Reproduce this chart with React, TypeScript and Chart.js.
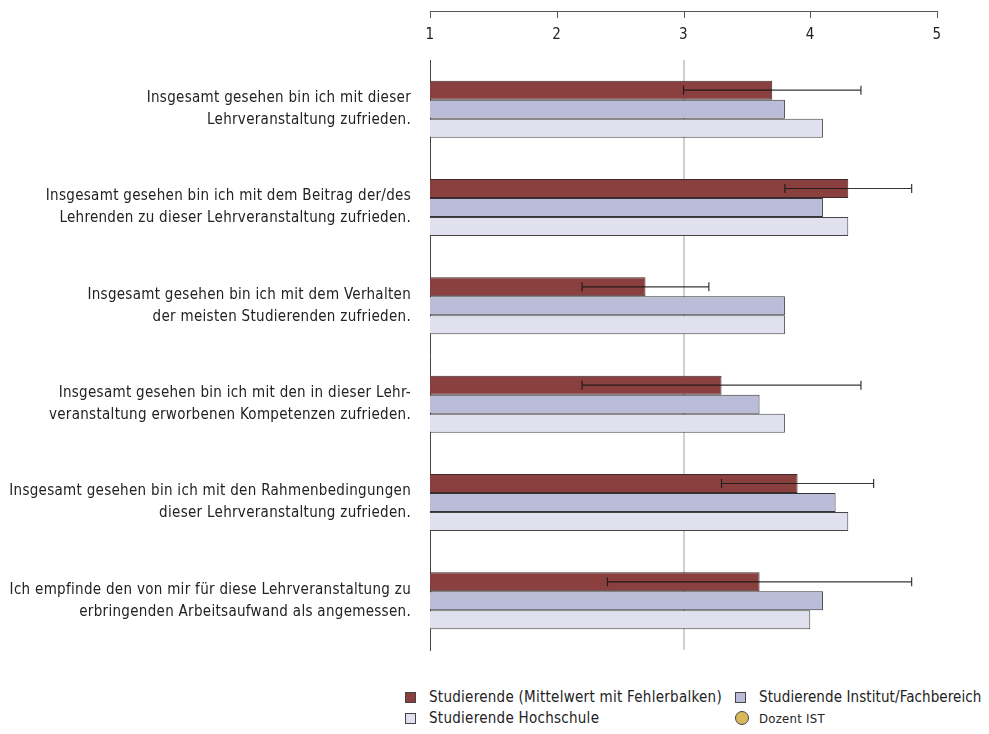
import { useEffect, useRef } from "react";
import { Chart, registerables } from "chart.js";

Chart.register(...registerables);

const FONT = '"Liberation Sans Narrow", "DejaVu Sans Condensed", "Arial Narrow", sans-serif';

const categories: string[][] = [
  ["Insgesamt gesehen bin ich mit dieser", "Lehrveranstaltung zufrieden."],
  ["Insgesamt gesehen bin ich mit dem Beitrag der/des", "Lehrenden zu dieser Lehrveranstaltung zufrieden."],
  ["Insgesamt gesehen bin ich mit dem Verhalten", "der meisten Studierenden zufrieden."],
  ["Insgesamt gesehen bin ich mit den in dieser Lehr-", "veranstaltung erworbenen Kompetenzen zufrieden."],
  ["Insgesamt gesehen bin ich mit den Rahmenbedingungen", "dieser Lehrveranstaltung zufrieden."],
  ["Ich empfinde den von mir für diese Lehrveranstaltung zu", "erbringenden Arbeitsaufwand als angemessen."],
];

const studierende = [3.7, 4.3, 2.7, 3.3, 3.9, 3.6];
const institut = [3.8, 4.1, 3.8, 3.6, 4.2, 4.1];
const hochschule = [4.1, 4.3, 3.8, 3.8, 4.3, 4.0];
const errLow = [3.0, 3.8, 2.2, 2.2, 3.3, 2.4];
const errHigh = [4.4, 4.8, 3.2, 4.4, 4.5, 4.8];
const xTicks = [1, 2, 3, 4, 5];

const legendItems = [
  { label: "Studierende (Mittelwert mit Fehlerbalken)", color: "#8b4040", shape: "square" },
  { label: "Studierende Institut/Fachbereich", color: "#babcd8", shape: "square" },
  { label: "Studierende Hochschule", color: "#e0e0ee", shape: "square" },
  { label: "Dozent IST", color: "#d9b85c", shape: "circle" },
];

const spacingPlugin = {
  id: "letterSpacing",
  beforeLayout(chart: any) {
    chart.ctx.letterSpacing = "0.3px";
  },
  beforeDraw(chart: any) {
    chart.ctx.letterSpacing = "0.3px";
  },
};

const errorBarPlugin = {
  id: "errorBars",
  afterDatasetsDraw(chart: any) {
    const meta = chart.getDatasetMeta(0);
    const xs = chart.scales.x;
    const ctx = chart.ctx;
    ctx.save();
    ctx.strokeStyle = "rgba(20,20,20,0.85)";
    ctx.lineWidth = 1.2;
    meta.data.forEach((el: any, i: number) => {
      const y = el.y;
      const x1 = xs.getPixelForValue(errLow[i]);
      const x2 = xs.getPixelForValue(errHigh[i]);
      ctx.beginPath();
      ctx.moveTo(x1, y);
      ctx.lineTo(x2, y);
      ctx.moveTo(x1, y - 4.5);
      ctx.lineTo(x1, y + 4.5);
      ctx.moveTo(x2, y - 4.5);
      ctx.lineTo(x2, y + 4.5);
      ctx.stroke();
    });
    ctx.restore();
  },
};

const topAxisPlugin = {
  id: "topAxisLine",
  afterDraw(chart: any) {
    const xs = chart.scales.x;
    const ctx = chart.ctx;
    const yTop = Math.round(chart.chartArea.top - 49);
    ctx.save();
    ctx.strokeStyle = "#555";
    ctx.lineWidth = 1;
    ctx.beginPath();
    ctx.moveTo(xs.getPixelForValue(xTicks[0]), yTop + 0.5);
    ctx.lineTo(xs.getPixelForValue(xTicks[xTicks.length - 1]), yTop + 0.5);
    xTicks.forEach((v) => {
      const px = Math.round(xs.getPixelForValue(v)) + 0.5;
      ctx.moveTo(px, yTop);
      ctx.lineTo(px, yTop + 7);
    });
    ctx.stroke();
    ctx.restore();
  },
};

export default function App() {
  const ref = useRef<HTMLCanvasElement | null>(null);

  useEffect(() => {
    if (!ref.current) return;
    const chart = new Chart(ref.current, {
      type: "bar",
      data: {
        labels: categories,
        datasets: [
          {
            label: "Studierende (Mittelwert mit Fehlerbalken)",
            data: studierende,
            backgroundColor: "#8b4040",
            borderColor: "#3a2a2a",
            borderWidth: 1,
          },
          {
            label: "Studierende Institut/Fachbereich",
            data: institut,
            backgroundColor: "#babcd8",
            borderColor: "#333",
            borderWidth: 1,
          },
          {
            label: "Studierende Hochschule",
            data: hochschule,
            backgroundColor: "#e0e0ee",
            borderColor: "#444",
            borderWidth: 1,
          },
        ],
      },
      options: {
        indexAxis: "y",
        animation: false,
        responsive: false,
        maintainAspectRatio: false,
        layout: { padding: { top: 15, right: 44, bottom: 8, left: 0 } },
        datasets: {
          bar: { categoryPercentage: 0.58, barPercentage: 1 },
        },
        plugins: {
          legend: { display: false },
          tooltip: { enabled: false },
        },
        scales: {
          x: {
            type: "linear",
            position: "top",
            min: 1,
            max: 5,
            afterBuildTicks: (scale: any) => {
              scale.ticks = xTicks.map((v) => ({ value: v }));
            },
            afterFit: (scale: any) => {
              scale.height = 37;
              scale.paddingLeft = 0;
              scale.paddingRight = 0;
            },
            border: { display: false },
            grid: {
              drawTicks: false,
              lineWidth: 2,
              color: (c: any) => (c.tick && c.tick.value === 3 ? "#d0d0d0" : "rgba(0,0,0,0)"),
            },
            ticks: {
              padding: 16,
              color: "#222",
              font: { family: FONT, size: 15 },
            },
          },
          y: {
            type: "category",
            afterFit: (scale: any) => {
              scale.width = 422;
              scale.paddingTop = 0;
              scale.paddingBottom = 0;
            },
            border: { display: true, color: "#444", width: 1 },
            grid: { display: false, drawTicks: false },
            ticks: {
              padding: 19,
              color: "#222",
              font: { family: FONT, size: 15, lineHeight: 1.47 },
            },
          },
        },
      },
      plugins: [spacingPlugin, errorBarPlugin, topAxisPlugin],
    } as any);
    return () => chart.destroy();
  }, []);

  const pos = [
    { left: 397, top: 679 },
    { left: 727, top: 679 },
    { left: 397, top: 700 },
    { left: 727, top: 700 },
  ];

  return (
    <div style={{ position: "relative", width: 973, height: 718, fontFamily: FONT }}>
      <canvas ref={ref} width={973} height={650} style={{ display: "block", width: 973, height: 650 }} />
      {legendItems.map((it, i) => (
        <div
          key={it.label}
          style={{
            position: "absolute",
            left: pos[i].left,
            top: pos[i].top,
            maxWidth: i === 1 ? 254 : undefined,
            overflow: i === 1 ? "hidden" : undefined,
            display: "flex",
            alignItems: "center",
            height: 20,
            fontSize: it.shape === "circle" ? 13 : 15,
            color: "#222",
            whiteSpace: "nowrap",
            letterSpacing: i === 1 ? 0.1 : 0.27,
          }}
        >
          <span
            style={{
              display: "inline-block",
              width: it.shape === "circle" ? 14 : 11,
              height: it.shape === "circle" ? 14 : 11,
              borderRadius: it.shape === "circle" ? "50%" : 0,
              background: it.color,
              border: "1px solid #444",
              marginRight: it.shape === "circle" ? 10 : 13,
              boxSizing: "border-box",
              flexShrink: 0,
            }}
          />
          {it.label}
        </div>
      ))}
    </div>
  );
}
